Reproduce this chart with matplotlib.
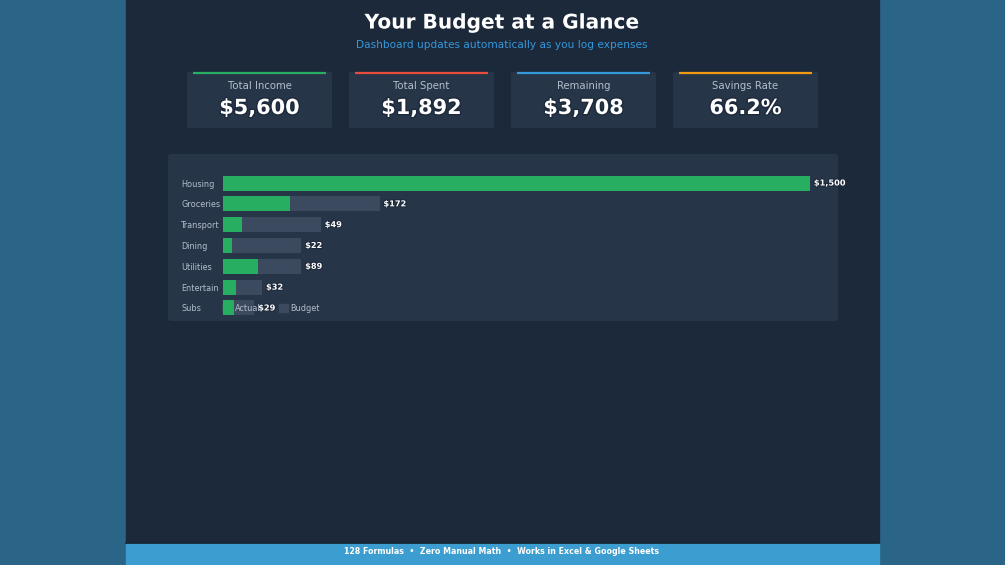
import matplotlib.pyplot as plt
import matplotlib.patheffects as pe
from matplotlib.patches import FancyBboxPatch, Rectangle, Patch

# data
categories = ['Housing', 'Groceries', 'Transport', 'Dining', 'Utilities', 'Entertain', 'Subs']
actual = [1500, 172, 49, 22, 89, 32, 29]
budget = [1500, 400, 250, 200, 200, 100, 80]

card_titles = ['Total Income', 'Total Spent', 'Remaining', 'Savings Rate']
card_values = ['$5,600', '$1,892', '$3,708', '66.2%']
card_colors = ['#27ae60', '#e74c3c', '#3498db', '#f39c12']

W, H = 1005, 565
fig = plt.figure(figsize=(W / 100, H / 100), dpi=100)
fig.patch.set_facecolor('#2a6487')

# background layer in pixel coords
bg = fig.add_axes([0, 0, 1, 1])
bg.set_xlim(0, W)
bg.set_ylim(H, 0)
bg.axis('off')

bg.add_patch(Rectangle((126, 0), 753, 543, color='#1c293b'))
bg.add_patch(Rectangle((126, 543), 753, 22, color='#3b9dd0'))
bg.plot([126, 879], [542.5, 542.5], color='#16202e', lw=1.2)

stroke = [pe.withStroke(linewidth=2, foreground='#1c293b')]
bg.text(502, 23, 'Your Budget at a Glance', color='white', fontsize=14.5,
        fontweight='bold', ha='center', va='center', path_effects=stroke)
bg.text(502, 45, 'Dashboard updates automatically as you log expenses',
        color='#3498db', fontsize=7.6, ha='center', va='center')

card_x = [187, 349, 511, 673]
for x, t, v, c in zip(card_x, card_titles, card_values, card_colors):
    bg.add_patch(FancyBboxPatch((x + 2, 74), 141, 52, boxstyle='round,pad=2',
                                fc='#273548', ec='none'))
    bg.plot([x + 6, x + 139], [73.2, 73.2], color=c, lw=1.6, solid_capstyle='butt')
    bg.text(x + 72.5, 86, t, color='#b4bfcd', fontsize=7.3, ha='center', va='center')
    bg.text(x + 72.5, 108, v, color='white', fontsize=15, fontweight='bold',
            ha='center', va='center', path_effects=stroke)

bg.add_patch(FancyBboxPatch((171, 157), 664, 161, boxstyle='round,pad=3',
                            fc='#273548', ec='none'))

bg.text(502, 551.5, '128 Formulas  \u2022  Zero Manual Math  \u2022  Works in Excel & Google Sheets',
        color='white', fontsize=5.7, fontweight='bold', ha='center', va='center')

# bar chart
xmax = 1550
left_px, top_px = 223, 172.6
w_px = xmax * 587 / 1500
h_px = 7 * 20.83
ax = fig.add_axes([left_px / W, 1 - (top_px + h_px) / H, w_px / W, h_px / H])
ax.patch.set_alpha(0)
ypos = list(range(len(categories)))
ax.barh(ypos, budget, height=0.72, color='#3c4a60', label='Budget')
ax.barh(ypos, actual, height=0.72, color='#27ae60', label='Actual')
ax.set_xlim(0, xmax)
ax.set_ylim(6.5, -0.5)
ax.set_xticks([])
ax.set_yticks(ypos)
ax.set_yticklabels(categories, ha='left', color='#b4bfcd', fontsize=5.9)
ax.tick_params(axis='y', length=0, pad=30)
for s in ax.spines.values():
    s.set_visible(False)

for y, a, b in zip(ypos, actual, budget):
    ax.text(max(a, b) + 10, y, f'${a:,}', color='white', fontsize=5.9, fontweight='bold',
            va='center', ha='left', path_effects=[pe.withStroke(linewidth=1.5, foreground='#1c293b')])

handles = [Patch(color='#27ae60'), Patch(color='#3c4a60')]
ax.legend(handles, ['Actual', 'Budget'], loc='center left', ncol=2, frameon=False,
          bbox_to_anchor=(223 / W, 1 - 308.5 / H), bbox_transform=fig.transFigure,
          fontsize=5.9, labelcolor='#b4bfcd', handlelength=1.1, handleheight=1.1,
          handletextpad=0.3, columnspacing=2.3, borderpad=0, borderaxespad=0)

fig.savefig('out.png', dpi=100, facecolor=fig.get_facecolor())
